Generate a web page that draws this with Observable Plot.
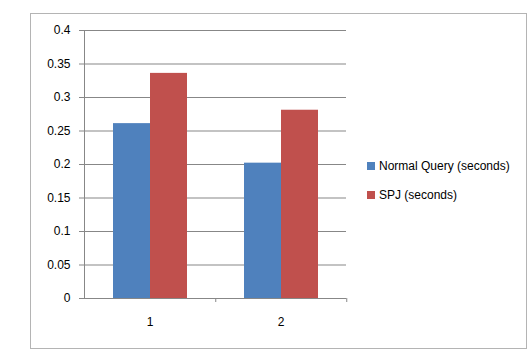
<!DOCTYPE html>
<html>
<head>
<meta charset="utf-8">
<script src="https://cdn.jsdelivr.net/npm/d3@7"></script>
<script src="https://cdn.jsdelivr.net/npm/@observablehq/plot@0.6"></script>
<style>
  body { margin: 0; background: #fff; }
  #wrap { position: relative; width: 530px; height: 351px; font-family: "Liberation Sans", Arial, sans-serif; }
  #border { position: absolute; left: 30px; top: 13px; width: 495px; height: 334px; border: 1px solid #b4b4b4; box-sizing: content-box; }
  #chart { position: absolute; left: 0; top: 0; }
  #legend { position: absolute; left: 367px; top: 159px; font-size: 12px; color: #000; }
  .item { display: flex; align-items: center; height: 14px; margin-bottom: 15px; white-space: nowrap; }
  .sw { width: 8px; height: 8px; margin-right: 4px; }
</style>
</head>
<body>
<div id="wrap">
  <div id="border"></div>
  <div id="chart"></div>
  <div id="legend"></div>
</div>
<script>
const categories = ["1", "2"];
const series = ["Normal Query (seconds)", "SPJ (seconds)"];
const normalQuery = [0.261, 0.202];
const spj = [0.336, 0.281];
const yTicks = [0, 0.05, 0.1, 0.15, 0.2, 0.25, 0.3, 0.35, 0.4];
const colors = ["#4F81BD", "#C0504D"];

const data = categories.flatMap((c, i) => [
  {cat: c, series: series[0], value: normalQuery[i]},
  {cat: c, series: series[1], value: spj[i]}
]);

const W = 530, H = 351, mL = 83, mR = 184, mT = 30, mB = 53;
const halfStep = (W - mL - mR) / categories.length / 2;

const plot = Plot.plot({
  width: W, height: H,
  marginLeft: mL, marginRight: mR, marginTop: mT, marginBottom: mB,
  style: {fontFamily: "'Liberation Sans', Arial, sans-serif", fontSize: "12px", color: "#000", background: "transparent", overflow: "visible"},
  fx: {domain: categories, padding: 0, label: null, axis: null},
  x: {domain: series, paddingInner: 0, paddingOuter: 0.76, axis: null},
  y: {domain: [0, 0.4], label: null},
  color: {domain: series, range: colors},
  marks: [
    Plot.gridY(yTicks, {stroke: "#878787", strokeOpacity: 1}),
    Plot.barY(data, {fx: "cat", x: "series", y: "value", fill: "series"}),
    Plot.frame({anchor: "left", facetAnchor: "left", stroke: "#878787"}),
    Plot.axisY(yTicks, {tickSize: 5, tickPadding: 9, stroke: "#878787", fill: "#000", tickFormat: d => String(d), label: null}),
    Plot.axisFx({anchor: "bottom", tickSize: 0, tickPadding: 19, fill: "#000", label: null}),
    Plot.axisFx({anchor: "bottom", tickSize: 4, stroke: "#878787", tickFormat: () => "", dx: halfStep, label: null})
  ]
});
document.getElementById("chart").appendChild(plot);

const legend = document.getElementById("legend");
series.forEach((s, i) => {
  const item = document.createElement("div");
  item.className = "item";
  const sw = document.createElement("span");
  sw.className = "sw";
  sw.style.background = colors[i];
  const t = document.createElement("span");
  t.textContent = s;
  item.appendChild(sw);
  item.appendChild(t);
  legend.appendChild(item);
});
</script>
</body>
</html>
